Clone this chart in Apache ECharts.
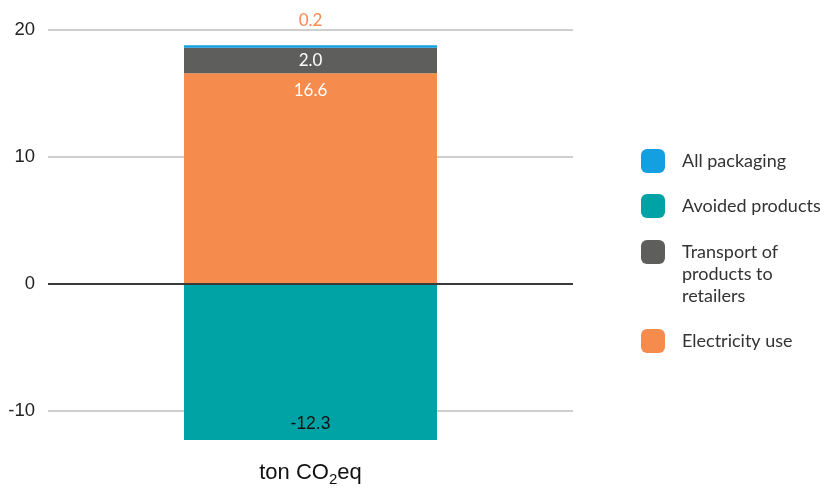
<!DOCTYPE html>
<html>
<head>
<meta charset="utf-8">
<script src="https://cdn.jsdelivr.net/npm/echarts@6/dist/echarts.min.js"></script>
<style>
  html, body { margin: 0; padding: 0; background: #fff; }
  #chart { width: 827px; height: 488px; }
</style>
</head>
<body>
<div id="chart"></div>
<script>
// Emissions breakdown, one stacked column
const categories = ['ton CO2eq'];
const electricityUse = [16.6];
const transport = [2.0];
const allPackaging = [0.2];
const avoidedProducts = [-12.3];
const yTicks = [-10, 0, 10, 20];

const COLORS = {
  packaging: '#139FE0',
  avoided: '#00A3A5',
  transport: '#5E5E5C',
  electricity: '#F68B4E'
};

const chart = echarts.init(document.getElementById('chart'), null, { renderer: 'canvas' });

const legendText = {
  fontFamily: 'Lato',
  fontSize: 18,
  color: '#333',
  lineHeight: 22,
  padding: [0, 0, 0, 12]
};

const legendBase = {
  orient: 'vertical',
  left: 641,
  padding: 0,
  itemWidth: 24,
  itemHeight: 24,
  icon: 'roundRect',
  selectedMode: false,
  textStyle: legendText
};

const option = {
  animation: false,
  backgroundColor: '#fff',
  grid: { left: 48, right: 254, top: 30, bottom: 48, containLabel: false },
  legend: [
    Object.assign({}, legendBase, { top: 149, data: ['All packaging'] }),
    Object.assign({}, legendBase, { top: 194, data: ['Avoided products'] }),
    Object.assign({}, legendBase, {
      top: 197,
      data: ['Transport of products to retailers'],
      // two leading blank lines keep the first text line level with the swatch
      formatter: () => '\n\nTransport of\nproducts to\nretailers'
    }),
    Object.assign({}, legendBase, { top: 329, data: ['Electricity use'] })
  ],
  xAxis: {
    type: 'category',
    data: categories,
    axisLine: { show: false },
    axisTick: { show: false },
    axisLabel: {
      margin: 18,
      formatter: () => '{b|ton CO}{s|2}{b|eq}',
      rich: {
        b: { fontFamily: 'Liberation Sans', fontSize: 22, color: '#111' },
        s: { fontFamily: 'Liberation Sans', fontSize: 15, color: '#111', padding: [14, 0, 0, 0] }
      }
    }
  },
  yAxis: {
    type: 'value',
    min: -12.3,
    max: 20,
    axisLine: { show: false },
    axisTick: { show: false, customValues: yTicks },
    axisLabel: {
      customValues: yTicks,
      margin: 13,
      fontFamily: 'Liberation Sans',
      fontSize: 18.5,
      color: '#222'
    },
    splitLine: { show: true, lineStyle: { color: '#cfcfcf', width: 2 } }
  },
  series: [
    {
      name: 'Electricity use',
      type: 'bar',
      stack: 'total',
      barWidth: 253,
      data: electricityUse,
      itemStyle: { color: COLORS.electricity },
      label: {
        show: true, position: 'insideTop', distance: 9,
        formatter: p => p.value.toFixed(1),
        fontFamily: 'Lato', fontSize: 17, color: '#fff'
      },
      markLine: {
        silent: true,
        symbol: 'none',
        label: { show: false },
        lineStyle: { color: '#3a3a3a', width: 2, type: 'solid' },
        data: [{ yAxis: 0 }]
      }
    },
    {
      name: 'Transport of products to retailers',
      type: 'bar',
      stack: 'total',
      data: transport,
      itemStyle: { color: COLORS.transport },
      label: {
        show: true, position: 'inside',
        formatter: p => p.value.toFixed(1),
        fontFamily: 'Lato', fontSize: 17, color: '#fff'
      }
    },
    {
      name: 'All packaging',
      type: 'bar',
      stack: 'total',
      data: allPackaging,
      itemStyle: { color: COLORS.packaging },
      label: {
        show: true, position: 'top', distance: 16,
        formatter: p => p.value.toFixed(1),
        fontFamily: 'Lato', fontSize: 17, color: COLORS.electricity
      }
    },
    {
      name: 'Avoided products',
      type: 'bar',
      stack: 'total',
      data: avoidedProducts,
      itemStyle: { color: COLORS.avoided },
      label: {
        show: true, position: 'insideBottom', distance: 7,
        formatter: p => p.value.toFixed(1),
        fontFamily: 'Liberation Sans', fontSize: 17.5, color: '#111'
      }
    }
  ]
};

chart.setOption(option);
</script>
</body>
</html>
